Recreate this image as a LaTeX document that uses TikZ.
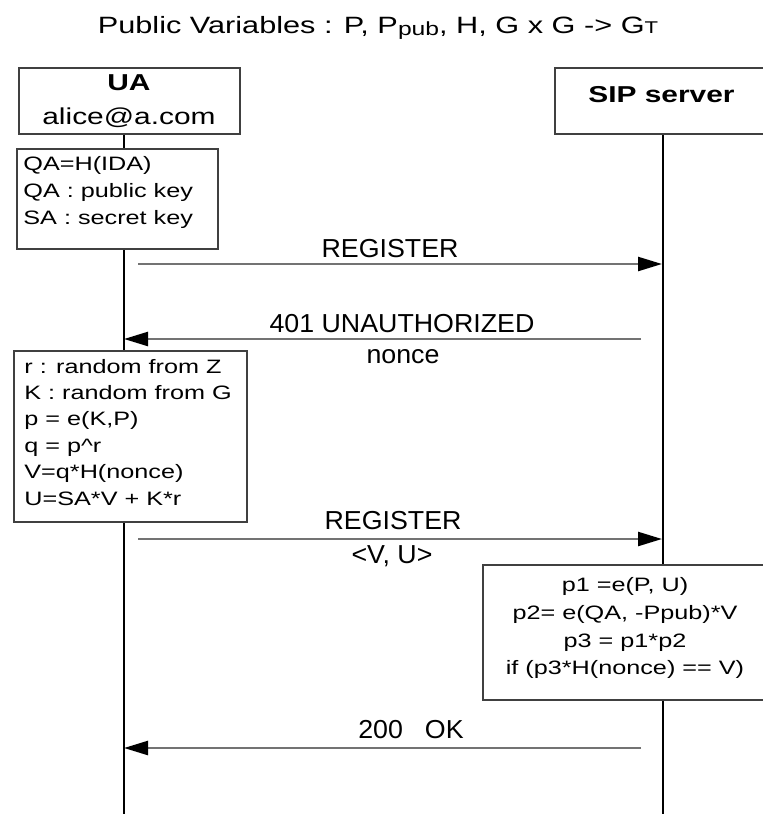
\documentclass[tikz,border=0pt]{standalone}
\usepackage{fontspec}
\setmainfont{Liberation Sans}
\newfontfamily\wideface{Liberation Sans}[FakeStretch=1.3]
\newfontfamily\msgface{Liberation Sans}[FakeStretch=1.03]
\usetikzlibrary{arrows.meta}

\begin{document}
\begin{tikzpicture}[x=0.5pt,y=-0.5pt,
  lifeline/.style={line width=1pt, draw=black},
  frame/.style={rectangle, draw=black!75, line width=1pt, fill=white, inner sep=0pt},
  msg/.style={draw=black!55, line width=1.2pt, -{Triangle[length=12pt,width=7pt,color=black]}},
  headtext/.style={anchor=base, inner sep=0pt, font=\wideface\fontsize{11.5}{13}\selectfont},
  boxline/.style={anchor=base west, inner sep=0pt, font=\wideface\fontsize{9.7}{11}\selectfont},
  calcline/.style={anchor=base, inner sep=0pt, font=\wideface\fontsize{9.7}{11}\selectfont},
  msglabel/.style={anchor=base, inner sep=0pt, font=\msgface\fontsize{13}{15}\selectfont}]

\useasboundingbox (0,0) rectangle (763,814);

% heading with the public parameters
\node[anchor=base, inner sep=0pt, font=\wideface\fontsize{11.8}{13}\selectfont] (title) at (378,33)
  {Public Variables : P, P\raisebox{-1pt}{\fontsize{9.5}{9.5}\selectfont pub}, H, G x G -> G{\fontsize{8.5}{8.5}\selectfont T}};

% lifelines
\coordinate (uaTop) at (124,134);
\coordinate (uaEnd) at (124,816);
\coordinate (sipTop) at (663,134);
\coordinate (sipEnd) at (663,816);
\draw[lifeline] (uaTop) -- (uaEnd);
\draw[lifeline] (sipTop) -- (sipEnd);

% participants
\node[frame, minimum width=110.5pt, minimum height=33pt] (ua) at (129.5,101) {};
\node[headtext] (uaName) at (129,90) {\bfseries UA};
\node[headtext] (uaAddr) at (129,124) {alice@a.com};

\node[frame, minimum width=107.5pt, minimum height=33pt] (sip) at (662.5,101) {};
\node[headtext] (sipName) at (661.5,102) {\bfseries SIP server};

% key setup on the UA side
\node[frame, minimum width=100.5pt, minimum height=50pt] (keys) at (117.5,199) {};
\node[boxline] (keys1) at (23,170) {QA=H(IDA)};
\node[boxline] (keys2) at (23,197) {QA : public key};
\node[boxline] (keys3) at (23,224) {SA : secret key};

% first REGISTER
\coordinate (reg1a) at (138,264);
\coordinate (reg1b) at (662,264);
\draw[msg] (reg1a) -- (reg1b);
\node[msglabel] (reg1t) at (390,257) {REGISTER};

% challenge
\coordinate (chla) at (641,339);
\coordinate (chlb) at (124,339);
\draw[msg] (chla) -- (chlb);
\node[msglabel] (chlt) at (402,332) {401 UNAUTHORIZED};
\node[msglabel] (chln) at (403,363) {nonce};

% response computation on the UA side
\node[frame, minimum width=116.5pt, minimum height=85.5pt] (resp) at (130.5,436.5) {};
\node[boxline] (resp1) at (24,373) {r : random from Z};
\node[boxline] (resp2) at (24,399.4) {K : random from G};
\node[boxline] (resp3) at (24,425.8) {p = e(K,P)};
\node[boxline] (resp4) at (24,452.2) {q = p\textasciicircum r};
\node[boxline] (resp5) at (24,478.6) {V=q*H(nonce)};
\node[boxline] (resp6) at (24,505) {U=SA*V + K*r};

% second REGISTER with the response
\coordinate (reg2a) at (138,539);
\coordinate (reg2b) at (662,539);
\draw[msg] (reg2a) -- (reg2b);
\node[msglabel] (reg2t) at (393,529) {REGISTER};
\node[msglabel] (reg2v) at (392,563) {<V, U>};

% verification on the server side
\node[frame, minimum width=143.5pt, minimum height=67.5pt] (verify) at (626.5,632.5) {};
\node[calcline] (ver1) at (625,591.7) {p1 =e(P, U)};
\node[calcline] (ver2) at (625,619.4) {p2= e(QA, -Ppub)*V};
\node[calcline] (ver3) at (625,647.1) {p3 = p1*p2};
\node[calcline] (ver4) at (625,674.8) {if (p3*H(nonce) == V)};

% success
\coordinate (oka) at (641,748);
\coordinate (okb) at (124,748);
\draw[msg] (oka) -- (okb);
\node[msglabel] (okt) at (411,738) {200\hspace{11pt}OK};
\end{tikzpicture}
\end{document}
